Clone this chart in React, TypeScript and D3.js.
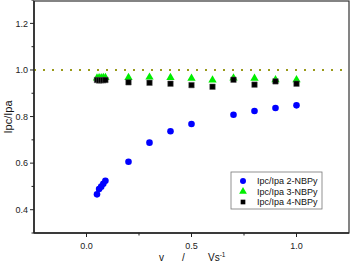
import React, { useRef, useEffect } from "react";
import * as d3 from "d3";

// scan rates (V/s) and Ipc/Ipa ratios
const xLow = [0.05, 0.06, 0.07, 0.08, 0.09];
const xHigh = [0.2, 0.3, 0.4, 0.5, 0.6, 0.7, 0.8, 0.9, 1.0];

const nbpy2 = [
  { x: 0.05, y: 0.466 }, { x: 0.06, y: 0.489 }, { x: 0.07, y: 0.499 },
  { x: 0.08, y: 0.511 }, { x: 0.09, y: 0.524 },
  { x: 0.2, y: 0.606 }, { x: 0.3, y: 0.688 }, { x: 0.4, y: 0.737 },
  { x: 0.5, y: 0.768 }, { x: 0.7, y: 0.808 }, { x: 0.8, y: 0.824 },
  { x: 0.9, y: 0.837 }, { x: 1.0, y: 0.848 },
];
const nbpy3Low = [0.965, 0.966, 0.966, 0.967, 0.967];
const nbpy3High = [0.967, 0.969, 0.967, 0.964, 0.957, 0.965, 0.964, 0.958, 0.958];
const nbpy4Low = [0.957, 0.955, 0.956, 0.956, 0.957];
const nbpy4High = [0.947, 0.945, 0.941, 0.935, 0.928, 0.958, 0.937, 0.951, 0.941];

const xTicks = [0, 0.5, 1.0];
const xMinor = [0.25, 0.75];
const yTicks = [0.4, 0.6, 0.8, 1.0, 1.2];
const yMinor = [0.3, 0.5, 0.7, 0.9, 1.1, 1.3];

const legendItems = ["Ipc/Ipa 2-NBPy", "Ipc/Ipa 3-NBPy", "Ipc/Ipa 4-NBPy"];

const W = 350, H = 263;
const margin = { top: 1, right: 1, bottom: 30, left: 34 };
const FONT = "'Liberation Sans', Arial, sans-serif";

export default function App() {
  const svgRef = useRef<SVGSVGElement>(null);

  useEffect(() => {
    const svg = d3.select(svgRef.current);
    svg.selectAll("*").remove();

    const x = d3.scaleLinear().domain([-0.25, 1.25]).range([margin.left, W - margin.right]);
    const y = d3.scaleLinear().domain([0.3, 1.3]).range([H - margin.bottom, margin.top - 0.9]);

    const x0 = margin.left, x1 = W - margin.right;
    const y0 = H - margin.bottom, y1 = margin.top;

    // frame
    svg.append("rect")
      .attr("x", x0).attr("y", y1)
      .attr("width", x1 - x0).attr("height", y0 - y1)
      .attr("fill", "none").attr("stroke", "#333").attr("stroke-width", 1.2);

    // reference line at 1.0
    svg.append("line")
      .attr("x1", x0).attr("x2", x1)
      .attr("y1", y(1.0)).attr("y2", y(1.0))
      .attr("stroke", "#9a9a1a").attr("stroke-width", 2)
      .attr("stroke-dasharray", "2,7");

    // x axis
    const gx = svg.append("g").attr("transform", `translate(0,${y0})`);
    gx.append("line").attr("x1", x0).attr("x2", x1).attr("stroke", "#222").attr("stroke-width", 1.5);
    gx.selectAll(".maj").data(xTicks).enter().append("line")
      .attr("x1", d => x(d)).attr("x2", d => x(d)).attr("y1", 0).attr("y2", 4)
      .attr("stroke", "#222").attr("stroke-width", 1);
    gx.selectAll(".min").data(xMinor).enter().append("line")
      .attr("x1", d => x(d)).attr("x2", d => x(d)).attr("y1", 0).attr("y2", 2.5)
      .attr("stroke", "#222").attr("stroke-width", 1);
    gx.selectAll("text").data(xTicks).enter().append("text")
      .attr("x", d => x(d)).attr("y", 16)
      .attr("text-anchor", "middle")
      .attr("font-family", FONT).attr("font-size", 9).attr("fill", "#222")
      .text(d => d3.format(".1f")(d));

    // y axis
    const gy = svg.append("g").attr("transform", `translate(${x0},0)`);
    gy.append("line").attr("y1", y0).attr("y2", y1).attr("stroke", "#222").attr("stroke-width", 1.5);
    gy.selectAll(".maj").data(yTicks).enter().append("line")
      .attr("y1", d => y(d)).attr("y2", d => y(d)).attr("x1", 0).attr("x2", -4)
      .attr("stroke", "#222").attr("stroke-width", 1);
    gy.selectAll(".min").data(yMinor).enter().append("line")
      .attr("y1", d => y(d)).attr("y2", d => y(d)).attr("x1", 0).attr("x2", -2.5)
      .attr("stroke", "#222").attr("stroke-width", 1);
    gy.selectAll("text").data(yTicks).enter().append("text")
      .attr("x", -6).attr("y", d => y(d) + 3.2)
      .attr("text-anchor", "end")
      .attr("font-family", FONT).attr("font-size", 9).attr("fill", "#222")
      .text(d => d3.format(".1f")(d));

    // axis titles
    svg.append("text")
      .attr("transform", `translate(12,${(y0 + y1) / 2}) rotate(-90)`)
      .attr("text-anchor", "middle")
      .attr("font-family", FONT).attr("font-size", 11).attr("fill", "#111")
      .text("Ipc/Ipa");
    const xt = svg.append("text")
      .attr("y", 261)
      .attr("font-family", FONT).attr("font-size", 10).attr("fill", "#111");
    xt.append("tspan").attr("x", 159).text("v");
    xt.append("tspan").attr("x", 182).text("/");
    xt.append("tspan").attr("x", 208).text("Vs");
    xt.append("tspan").attr("dy", -4).attr("font-size", 6.5).text("-1");

    const tri = d3.symbol().type(d3.symbolTriangle).size(30);
    const sq = d3.symbol().type(d3.symbolSquare).size(30);

    const xs = [...xLow, ...xHigh];
    const s3 = xs.map((v, i) => ({ x: v, y: [...nbpy3Low, ...nbpy3High][i] }));
    const s4 = xs.map((v, i) => ({ x: v, y: [...nbpy4Low, ...nbpy4High][i] }));

    svg.append("g").selectAll("path").data(s3).enter().append("path")
      .attr("d", tri as any)
      .attr("transform", d => `translate(${x(d.x)},${y(d.y)})`)
      .attr("fill", "#00ee00");
    svg.append("g").selectAll("path").data(s4).enter().append("path")
      .attr("d", sq as any)
      .attr("transform", d => `translate(${x(d.x)},${y(d.y)})`)
      .attr("fill", "#000").attr("stroke", "#555").attr("stroke-width", 0.5);
    svg.append("g").selectAll("circle").data(nbpy2).enter().append("circle")
      .attr("cx", d => x(d.x)).attr("cy", d => y(d.y)).attr("r", 3.3)
      .attr("fill", "#0000ff");

    // legend
    const lg = svg.append("g").attr("transform", "translate(231,172)");
    lg.append("rect").attr("width", 91).attr("height", 37)
      .attr("fill", "#fff").attr("stroke", "#777").attr("stroke-width", 0.8);
    const shapes = [
      d3.symbol().type(d3.symbolCircle).size(28),
      d3.symbol().type(d3.symbolTriangle).size(26),
      d3.symbol().type(d3.symbolSquare).size(22),
    ];
    const colors = ["#0000ff", "#00ee00", "#000"];
    legendItems.forEach((t, i) => {
      const cy = 9 + i * 10.5;
      lg.append("path").attr("d", shapes[i] as any)
        .attr("transform", `translate(12,${cy})`).attr("fill", colors[i]);
      lg.append("text").attr("x", 26).attr("y", cy + 3.3)
        .attr("font-family", FONT).attr("font-size", 9).attr("fill", "#111")
        .text(t);
    });
  }, []);

  return (
    <svg ref={svgRef} width={W} height={H}
      style={{ position: "absolute", left: 0, top: 0, background: "#fff" }} />
  );
}
